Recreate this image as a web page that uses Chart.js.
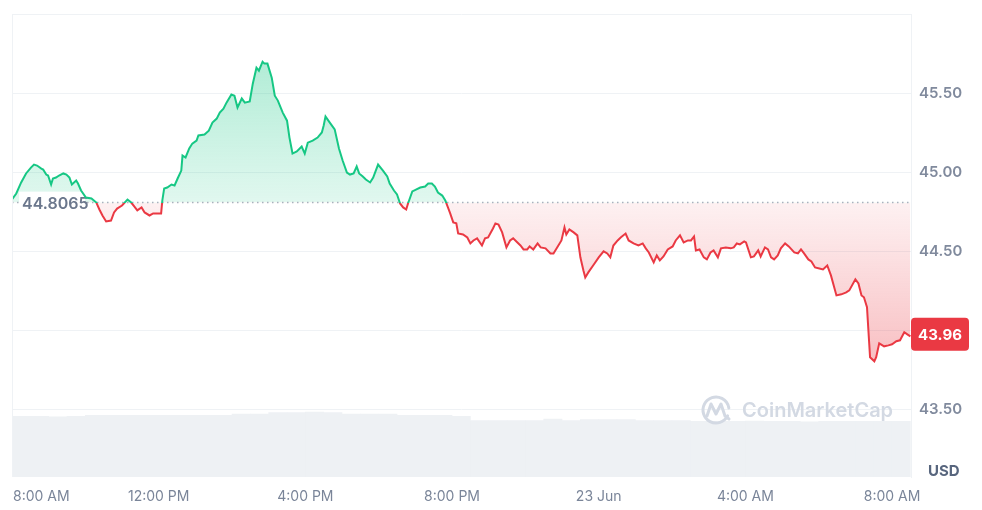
<!DOCTYPE html>
<html>
<head>
<meta charset="utf-8">
<title>Price chart</title>
<script src="https://cdn.jsdelivr.net/npm/chart.js@4.4.1/dist/chart.umd.min.js"></script>
<style>
    html, body { margin: 0; padding: 0; background: #fff; }
    #wrap { position: relative; width: 982px; height: 510px; }
</style>
</head>
<body>
<div id="wrap"><canvas id="priceChart" width="982" height="510"></canvas></div>
<script>
// Prix (USD) - minutes depuis 8:00 AM, 22 Jun
const minutes = [
    0, 7, 15, 23, 31, 36, 41, 48, 51, 56, 59, 64, 67, 72, 77, 84, 89, 94, 98, 105,
    108, 113, 121, 130, 138, 143, 148, 154, 162, 167, 172, 180, 189, 195, 200, 205, 212, 217, 225, 231,
    238, 244, 246, 249, 254, 261, 266, 271, 277, 279, 284, 290, 295, 302, 305, 315, 322, 328, 335, 340,
    346, 351, 359, 364, 369, 376, 381, 389, 394, 400, 404, 410, 413, 418, 425, 430, 435, 443, 450, 454,
    459, 466, 474, 479, 484, 492, 500, 507, 510, 513, 520, 528, 535, 541, 548, 553, 559, 564, 568, 574,
    579, 586, 591, 599, 607, 614, 618, 625, 630, 635, 640, 645, 648, 655, 661, 668, 676, 681, 687, 692,
    697, 704, 709, 717, 722, 727, 730, 738, 745, 750, 755, 761, 769, 774, 779, 787, 791, 796, 802, 809,
    815, 820, 827, 832, 837, 843, 847, 853, 860, 865, 873, 881, 886, 892, 899, 904, 907, 912, 919, 925,
    930, 935, 938, 943, 952, 960, 968, 974, 979, 984, 991, 996, 1004, 1009, 1017, 1025, 1032, 1037, 1042, 1050,
    1055, 1060, 1066, 1073, 1081, 1086, 1093, 1099, 1106, 1111, 1116, 1119, 1125, 1132, 1137, 1143, 1148, 1155, 1160, 1168,
    1176, 1181, 1186, 1191, 1198, 1201, 1209, 1214, 1221, 1225, 1232, 1237, 1242, 1247, 1253, 1258, 1265, 1271, 1280, 1286,
    1291, 1296, 1303, 1308, 1314, 1321, 1327, 1334, 1340, 1349, 1357, 1365, 1370, 1380, 1385, 1390, 1394, 1399, 1401, 1404,
    1411, 1414, 1419, 1427, 1434, 1440, 1447, 1453, 1460, 1465, 1470
];
const prices = [
    44.826, 44.864, 44.934, 44.991, 45.028, 45.047, 45.041, 45.022, 45.016, 44.984, 44.978, 44.921, 44.959, 44.965, 44.978, 44.991, 44.984, 44.965, 44.921, 44.946,
    44.927, 44.883, 44.839, 44.833, 44.807, 44.763, 44.725, 44.687, 44.693, 44.744, 44.769, 44.788, 44.826, 44.807, 44.782, 44.757, 44.776, 44.744, 44.725, 44.738,
    44.738, 44.738, 44.820, 44.896, 44.902, 44.921, 44.915, 44.959, 45.009, 45.104, 45.092, 45.149, 45.180, 45.199, 45.231, 45.237, 45.262, 45.313, 45.338, 45.376,
    45.401, 45.439, 45.490, 45.483, 45.408, 45.465, 45.439, 45.446, 45.559, 45.660, 45.641, 45.698, 45.686, 45.686, 45.597, 45.483, 45.452, 45.376, 45.325, 45.218,
    45.117, 45.130, 45.161, 45.117, 45.186, 45.199, 45.218, 45.250, 45.294, 45.351, 45.313, 45.270, 45.149, 45.073, 44.997, 44.984, 44.991, 45.035, 44.991, 44.972,
    44.953, 44.934, 44.965, 45.047, 45.009, 44.972, 44.927, 44.883, 44.858, 44.801, 44.776, 44.763, 44.801, 44.877, 44.889, 44.902, 44.908, 44.927, 44.927, 44.908,
    44.870, 44.851, 44.820, 44.738, 44.681, 44.675, 44.611, 44.605, 44.586, 44.548, 44.567, 44.580, 44.535, 44.580, 44.586, 44.643, 44.675, 44.668, 44.618, 44.523,
    44.567, 44.580, 44.554, 44.535, 44.510, 44.510, 44.529, 44.510, 44.548, 44.523, 44.517, 44.485, 44.485, 44.523, 44.567, 44.649, 44.605, 44.637, 44.618, 44.599,
    44.460, 44.377, 44.333, 44.365, 44.415, 44.460, 44.498, 44.485, 44.460, 44.535, 44.567, 44.586, 44.611, 44.567, 44.548, 44.535, 44.548, 44.517, 44.491, 44.428,
    44.472, 44.441, 44.466, 44.510, 44.529, 44.567, 44.599, 44.554, 44.567, 44.567, 44.592, 44.504, 44.510, 44.460, 44.447, 44.491, 44.504, 44.460, 44.517, 44.523,
    44.517, 44.523, 44.548, 44.542, 44.561, 44.554, 44.460, 44.466, 44.504, 44.466, 44.523, 44.510, 44.460, 44.447, 44.472, 44.517, 44.548, 44.529, 44.491, 44.485,
    44.510, 44.485, 44.447, 44.434, 44.396, 44.390, 44.384, 44.409, 44.346, 44.219, 44.226, 44.238, 44.251, 44.321, 44.295, 44.219, 44.207, 44.144, 44.017, 43.828,
    43.802, 43.828, 43.916, 43.897, 43.903, 43.910, 43.929, 43.935, 43.986, 43.973, 43.960
];
// Volume par tranche de 30 minutes (échelle masquée)
const volumes = [
    1.31, 1.31, 1.30, 1.31, 1.33, 1.33, 1.33, 1.33, 1.33, 1.33, 1.33, 1.33, 1.36, 1.36, 1.39, 1.39, 1.40, 1.39, 1.36, 1.36,
    1.36, 1.33, 1.33, 1.33, 1.31, 1.22, 1.22, 1.22, 1.22, 1.25, 1.22, 1.24, 1.24, 1.24, 1.22, 1.22, 1.22, 1.20, 1.20, 1.20,
    1.21, 1.20, 1.20, 1.19, 1.20, 1.20, 1.20, 1.20, 1.20
];
const openPrice = 44.8065;
const lastPrice = 43.96;
const xTickMinutes = [0, 240, 480, 720, 960, 1200, 1440];
const xTickLabels = ['8:00 AM', '12:00 PM', '4:00 PM', '8:00 PM', '23 Jun', '4:00 AM', '8:00 AM'];
const yTickValues = [43.5, 44, 44.5, 45, 45.5, 46];

const GREEN = '#16c784';
const RED = '#ea3943';
const GRID = '#eff2f5';
const FONT = 'Inter, "Noto Sans", sans-serif';

// Décorations dessinées sur le canvas
const decorations = {
    id: 'decorations',
    afterDatasetDraw(chart, args) {
        // étiquette du prix d'ouverture, au-dessus de la ligne pointillée
        if (args.index !== 1) return;
        const c = chart.ctx;
        const y = chart.scales.y.getPixelForValue(openPrice);
        c.save();
        c.fillStyle = '#fff';
        c.fillRect(19, y - 11, 66, 23);
        c.fillStyle = '#6b778c';
        c.font = '600 16px ' + FONT;
        c.textBaseline = 'middle';
        c.textAlign = 'left';
        c.fillText(openPrice.toFixed(4), 22, y + 2);
        c.restore();
    },
    afterDraw(chart) {
        const c = chart.ctx;
        const area = chart.chartArea;
        const x = chart.scales.x;
        c.save();
        // bord gauche
        c.strokeStyle = GRID;
        c.lineWidth = 1;
        c.beginPath();
        c.moveTo(area.left + 0.5, area.top);
        c.lineTo(area.left + 0.5, area.bottom);
        c.stroke();

        // filigrane
        c.strokeStyle = '#d3d9e3';
        c.fillStyle = '#d3d9e3';
        c.lineWidth = 3;
        c.lineCap = 'round';
        c.lineJoin = 'round';
        c.beginPath();
        c.arc(716, 410, 13, 0.15 * Math.PI, 1.95 * Math.PI);
        c.stroke();
        c.beginPath();
        c.moveTo(707, 416);
        c.lineTo(711, 404);
        c.lineTo(716, 414);
        c.lineTo(721, 404);
        c.lineTo(725, 416);
        c.lineTo(729, 419);
        c.stroke();
        c.font = '600 20px ' + FONT;
        c.textBaseline = 'middle';
        c.textAlign = 'left';
        c.fillText('CoinMarketCap', 742, 411);

        // étiquettes de l'axe du temps
        c.fillStyle = '#7a8599';
        c.font = '14px ' + FONT;
        xTickMinutes.forEach((m, i) => {
            const px = x.getPixelForValue(m);
            c.textAlign = i === 0 ? 'left' : 'center';
            c.fillText(xTickLabels[i], i === 0 ? px + 1 : px, 497);
        });

        // USD
        c.fillStyle = '#58667e';
        c.font = '700 15px ' + FONT;
        c.textAlign = 'left';
        c.fillText('USD', 928, 471);

        // dernier prix
        const ly = chart.scales.y.getPixelForValue(lastPrice) - 2;
        c.fillStyle = RED;
        c.beginPath();
        c.roundRect(911, ly - 16.5, 58, 33, 4);
        c.fill();
        c.fillStyle = '#fff';
        c.font = '700 15px ' + FONT;
        c.textAlign = 'center';
        c.fillText(lastPrice.toFixed(2), 940, ly + 1);
        c.restore();
    }
};

const chart = new Chart(document.getElementById('priceChart'), {
    data: {
        datasets: [
            {
                type: 'line',
                label: 'Prix',
                data: minutes.map((m, i) => ({x: m, y: prices[i]})),
                borderColor: GREEN,
                borderWidth: 2,
                pointRadius: 0,
                tension: 0,
                fill: {target: {value: openPrice}, above: 'rgba(22,199,132,0.2)', below: 'rgba(234,57,67,0.1)'},
                order: 1
            },
            {
                type: 'line',
                label: 'Ouverture',
                data: [{x: 0, y: openPrice}, {x: 1471, y: openPrice}],
                borderColor: '#a9b0bd',
                borderWidth: 1.5,
                borderDash: [1.5, 3.5],
                pointRadius: 0,
                fill: false,
                order: 2
            },
            {
                type: 'bar',
                label: 'Volume',
                yAxisID: 'yv',
                data: volumes.map((v, i) => ({x: i * 30 + 15, y: v})),
                backgroundColor: '#eef1f4',
                barPercentage: 1,
                categoryPercentage: 1,
                order: 3
            }
        ]
    },
    options: {
        responsive: false,
        animation: false,
        devicePixelRatio: 1,
        layout: {padding: {left: 12, top: 14, bottom: 33, right: 0}},
        plugins: {
            legend: {display: false},
            tooltip: {enabled: false},
            filler: {drawTime: 'beforeDatasetsDraw'}
        },
        scales: {
            x: {
                type: 'linear',
                min: 0,
                max: 1471,
                offset: false,
                display: false
            },
            y: {
                position: 'right',
                min: 43.07,
                max: 46,
                afterBuildTicks: axis => { axis.ticks = yTickValues.map(v => ({value: v})); },
                afterFit: axis => {
                    axis.width = 71;
                    axis.paddingTop = 0;
                    axis.paddingBottom = 0;
                },
                grid: {color: GRID, drawTicks: false},
                border: {display: true, color: GRID},
                ticks: {
                    padding: 8,
                    color: '#808a9d',
                    font: {family: FONT, size: 15, weight: '600'},
                    callback: v => v === 46 ? '' : v.toFixed(2)
                }
            },
            yv: {
                display: false,
                min: 0,
                max: 10
            }
        }
    },
    plugins: [decorations]
});

// Dégradés calculés une fois la zone du graphique connue
const area = chart.chartArea;
const yScale = chart.scales.y;
const ctx = chart.ctx;
const baseY = yScale.getPixelForValue(openPrice);
const stop = (baseY - area.top) / (area.bottom - area.top);
const lineGrad = ctx.createLinearGradient(0, area.top, 0, area.bottom);
lineGrad.addColorStop(0, GREEN);
lineGrad.addColorStop(stop, GREEN);
lineGrad.addColorStop(stop, RED);
lineGrad.addColorStop(1, RED);
const greenGrad = ctx.createLinearGradient(0, area.top, 0, baseY);
greenGrad.addColorStop(0, 'rgba(22,199,132,0.40)');
greenGrad.addColorStop(1, 'rgba(22,199,132,0.13)');
const redGrad = ctx.createLinearGradient(0, baseY, 0, yScale.getPixelForValue(43.8));
redGrad.addColorStop(0, 'rgba(234,57,67,0.07)');
redGrad.addColorStop(1, 'rgba(234,57,67,0.32)');
const priceSet = chart.data.datasets[0];
priceSet.borderColor = lineGrad;
priceSet.fill = {target: {value: openPrice}, above: greenGrad, below: redGrad};
chart.update();
</script>
</body>
</html>
